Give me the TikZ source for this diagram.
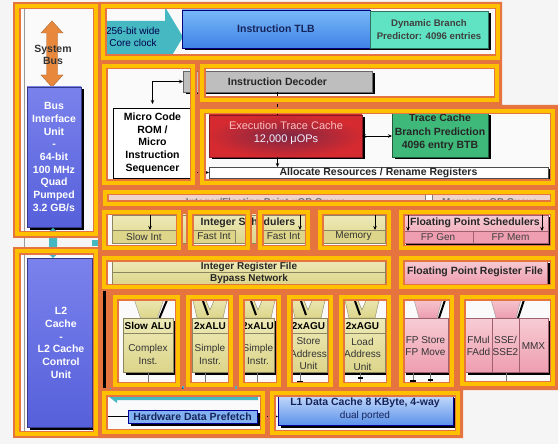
\documentclass[tikz,border=0pt]{standalone}
\usepackage{fontspec}
\setmainfont{Liberation Sans}
\usetikzlibrary{shadows,arrows.meta}

\definecolor{hlyellow}{HTML}{FFC000}
\definecolor{hlorange}{HTML}{E6743F}
\definecolor{pagebg}{HTML}{F5F5F5}
\definecolor{cellbg}{HTML}{FAFAFA}
\definecolor{biublue}{HTML}{5660DA}
\definecolor{biutop}{HTML}{7A82EC}
\definecolor{tlbtop}{HTML}{78B8F8}
\definecolor{tlbbot}{HTML}{3F82E6}
\definecolor{aqua}{HTML}{5FE3C2}
\definecolor{tealarrow}{HTML}{45B8C2}
\definecolor{busorange}{HTML}{E8883C}
\definecolor{decgray}{HTML}{BEBEBE}
\definecolor{tcred}{HTML}{D42A30}
\definecolor{btbgreen}{HTML}{3FB97A}
\definecolor{khaki}{HTML}{DCD58A}
\definecolor{khakitop}{HTML}{EEEAB8}
\definecolor{khakiedge}{HTML}{8C8660}
\definecolor{fppink}{HTML}{EE9EB0}
\definecolor{fppinktop}{HTML}{F7CCD4}
\definecolor{pinkedge}{HTML}{A06070}
\definecolor{navy}{HTML}{16245A}
\definecolor{l1top}{HTML}{C4DAFA}
\definecolor{l1bot}{HTML}{5C92EA}
\definecolor{pfblue}{HTML}{82B2F2}
\definecolor{queuebg}{HTML}{F0D4CC}

\tikzset{
  every node/.style={inner sep=0pt, outer sep=0pt},
  shadowed/.style={general shadow={fill=black, shadow xshift=2.5pt, shadow yshift=-2.5pt}},
  ubox/.style={anchor=north west, draw=#1, line width=0.5pt, align=center},
  bigbold/.style={font=\fontsize{10.5}{12.7}\selectfont\bfseries, align=center},
  midbold/.style={font=\fontsize{10}{12.5}\selectfont\bfseries, align=center},
  txtplain/.style={font=\fontsize{10}{12.5}\selectfont, align=center},
  wire/.style={draw=black, line width=0.7pt},
  arr/.style={-{Stealth[length=4pt,width=3.5pt]}},
  arrboth/.style={{Stealth[length=4pt,width=3.5pt]}-{Stealth[length=4pt,width=3.5pt]}},
  bandorange/.style={draw=hlorange, line width=7.6pt},
  bandyellow/.style={draw=hlyellow, line width=4.3pt},
  stub/.style={draw=black!55, line width=0.6pt},
}

% ALU symbol with a V notch: centre x
\newcommand\alusym[1]{%
  \path[top color=khakitop, bottom color=khaki, draw=khakiedge, line width=0.4pt]
    (#1-18,296) -- (#1-6,296) -- (#1,310) -- (#1+6,296) -- (#1+18,296)
    -- (#1+13,318) -- (#1-13,318) -- cycle;
  \draw[black, line width=2pt] (#1-7,301) -- (#1-2,315);}
% plain funnel: centre x, half top width, half bottom width, top colour, bottom colour
\newcommand\funnelsym[5]{%
  \path[top color=#4, bottom color=#5, draw=black!40, line width=0.4pt]
    (#1-#2,296) -- (#1+#2,296) -- (#1+#3,318) -- (#1-#3,318) -- cycle;
  \draw[black, line width=2pt] (#1+#3+2,318) -- (#1+#2+2,300);}

\newcommand\framelist{13/2/100/238, 13/247/100/438, 99/2/502/62, 100/62/197/187,
  198/62/501/104, 198/107/557/187, 101/188/557/208, 100/208/183/252,
  186/208/252/252, 256/208/312/252, 316/208/393/252, 397/208/557/252,
  100/254/393/291, 397/254/557/291, 111/293/182/389, 184/293/235/389,
  237/293/283/389, 285/293/335/389, 337/293/393/389, 397/293/456/389,
  458/293/557/388, 100/389/267/436, 268/389/462/437}

\begin{document}
\begin{tikzpicture}[x=1pt,y=-1pt]
\useasboundingbox (0,0) rectangle (558,444);
\fill[pagebg] (0,0) rectangle (558,444);

% orange ground behind the highlighted core blocks
\fill[hlorange] (98,2) -- (502,2) -- (502,105) -- (558,105) -- (558,390)
  -- (463,390) -- (463,438) -- (98,438) -- cycle;
\foreach \xa/\ya/\xb/\yb in \framelist {
  \fill[cellbg] (\xa+7,\ya+7) rectangle (\xb-7,\yb-7);
}

% ---------- system bus, bus interface, L2 ----------
\draw[black!40, line width=0.6pt] (24.5,8) -- (24.5,432);
\path[fill=busorange, draw=busorange!75!black, line width=0.4pt]
  (52,21) -- (63,33) -- (57.5,33) -- (57.5,75) -- (63,75) -- (52,87)
  -- (41,75) -- (46.5,75) -- (46.5,33) -- (41,33) -- cycle;
\node[bigbold, text=black!80] (sysbus) at (53,55) {System\\Bus};

\node[ubox=biublue!60!black, top color=biutop, bottom color=biublue, shadowed,
  minimum width=54pt, minimum height=140pt] (biu) at (27,87) {};
\node[bigbold, text=white] (biutxt) at (54,157)
  {Bus\\Interface\\Unit\\-\\64-bit\\100 MHz\\Quad\\Pumped\\3.2 GB/s};

\path[fill=tealarrow] (53,228) -- (62,236) -- (57,236) -- (57,250) -- (62,250)
  -- (53,258) -- (44,250) -- (49,250) -- (49,236) -- (44,236) -- cycle;
\fill[tealarrow] (92,240) rectangle (98,246);

\node[ubox=biublue!60!black, top color=biutop, bottom color=biublue, shadowed,
  minimum width=65pt, minimum height=169pt] (l2) at (27,258) {};
\node[bigbold, text=white] (l2txt) at (61,343)
  {L2\\Cache\\-\\L2 Cache\\Control\\Unit};

% ---------- fetch ----------
\fill[tealarrow] (100,21) -- (165,21) -- (165,7) -- (183,37) -- (165,67)
  -- (165,54) -- (100,54) -- cycle;
\node[txtplain, text=black!70!blue] (corewide) at (133,37) {256-bit wide\\Core clock};

\node[ubox=blue!50!black, top color=tlbtop, bottom color=tlbbot, shadowed,
  minimum width=188pt, minimum height=38pt, bigbold, text=navy] (itlb) at (182,10)
  {Instruction TLB};
\node[ubox=aqua!50!black, fill=aqua, shadowed, minimum width=118pt,
  minimum height=37pt, font=\fontsize{9.6}{12.7}\selectfont\bfseries,
  text=black!75] (dbp) at (370,11) {Dynamic Branch\\Predictor: 4096 entries};

% ---------- decode ----------
\node[ubox=black, fill=white, shadowed, minimum width=79pt, minimum height=70pt,
  bigbold, text=black] (ucode) at (113,108)
  {Micro Code\\ROM /\\Micro\\Instruction\\Sequencer};
\node[ubox=black!60, fill=decgray, shadowed, minimum width=189pt,
  minimum height=21pt, bigbold, text=black!85] (idec) at (183,71)
  {Instruction Decoder};
\draw[wire, arrboth] (idec.west) -| ([yshift=4pt]ucode.north);

% ---------- trace cache ----------
\node[ubox=tcred!60!black, inner color=tcred!55!navy, outer color=tcred, shadowed,
  minimum width=153pt, minimum height=42pt] (etc) at (209,115) {};
\node[font=\fontsize{11}{13}\selectfont, align=center] (etctxt) at (286,133.5)
  {\textcolor{red!25!white}{Execution Trace Cache}\\
   \textcolor{blue!6!white}{12,000 μOPs}};
\node[ubox=btbgreen!50!black, fill=btbgreen, shadowed, minimum width=96pt,
  minimum height=44pt] (btb) at (392,113) {};
\node[font=\fontsize{10.5}{13.5}\selectfont\bfseries, align=center, text=black!85]
  (btbtxt) at (440,132.5) {Trace Cache\\Branch Prediction\\4096 entry BTB};
\draw[wire, arrboth] (etc.east) -- (etc.east -| btb.west);
\draw[wire] (idec.south) -- (idec.south |- etc.north);

\node[ubox=black!70, fill=white, shadowed, minimum width=339pt,
  minimum height=11pt, bigbold, text=black!85] (alloc) at (209,167)
  {Allocate Resources / Rename Registers};
\coordinate (etcout) at ([xshift=-8pt]etc.south);
\draw[wire, arr] (etcout) -- (etcout |- alloc.north);
\coordinate (allocin) at (196,172.5);
\draw[wire, arr] (allocin) -- (alloc.west);

% ---------- uop queues ----------
\node[ubox=black!40, fill=queuebg, minimum width=442pt, minimum height=11pt]
  (uopq) at (108,193) {};
\node[midbold, text=black!55] (iqtxt) at (266,203)
  {Integer/Floating Point μOP Queue};
\node[ubox=black!50, fill=white, minimum width=7pt, minimum height=9pt]
  (qdiv) at (425,194) {};
\node[midbold, text=black!55] (mqtxt) at (490,203) {Memory μOP Queue};

% ---------- schedulers ----------
\node[ubox=khakiedge, top color=khakitop, bottom color=khaki, minimum width=193pt,
  minimum height=28pt] (isched) at (112,215) {};
\node[bigbold, text=black!85] (ischedtxt) at (248,223) {Integer Schedulers};
\node[ubox=khakiedge, fill=khaki, minimum width=64pt, minimum height=13pt,
  txtplain, text=black!80] (slowint) at (112,230) {Slow Int};
\node[ubox=khakiedge, fill=khaki, minimum width=42pt, minimum height=13pt,
  txtplain, text=black!80] (fastinta) at (193,230) {Fast Int};
\node[ubox=khakiedge, fill=khaki, minimum width=43pt, minimum height=13pt,
  txtplain, text=black!80] (fastintb) at (262,230) {Fast Int};
\node[ubox=khakiedge, top color=khakitop, bottom color=khaki, minimum width=63pt,
  minimum height=28pt] (memsched) at (322,215) {};
\node[ubox=khakiedge, fill=khaki, minimum width=63pt, minimum height=13pt,
  txtplain, text=black!80] (memcell) at (322,230) {Memory};

\node[ubox=pinkedge, top color=fppinktop, bottom color=fppink, shadowed,
  minimum width=145pt, minimum height=28pt] (fpsched) at (403,215) {};
\node[bigbold, text=black!85] (fpschedtxt) at (475,223) {Floating Point Schedulers};
\node[ubox=pinkedge, fill=fppink, minimum width=70pt, minimum height=12pt,
  txtplain, text=black!75] (fpgen) at (403,231) {FP Gen};
\node[ubox=pinkedge, fill=fppink, minimum width=75pt, minimum height=12pt,
  txtplain, text=black!75] (fpmem) at (473,231) {FP Mem};

\coordinate (sa) at (150,213);
\coordinate (sb) at (300,213);
\coordinate (sc) at (375,213);
\coordinate (sd) at (408,213);
\coordinate (se) at (542,213);
\draw[wire, arr] (sa) -- (sa |- slowint.north);
\draw[wire, arr] (sb) -- (sb |- fastintb.north);
\draw[wire, arr] (sc) -- (sc |- memcell.north);
\draw[wire, arr] (sd) -- (sd |- fpgen.north);
\draw[wire, arr] (se) -- (se |- fpmem.north);

% ---------- register files ----------
\node[ubox=khakiedge, top color=khakitop, bottom color=khaki, minimum width=273pt,
  minimum height=24pt] (irf) at (112,260) {};
\draw[khakiedge, line width=0.5pt] (irf.west) -- (irf.east);
\node[midbold, text=black!85] (irftxt) at (249,267) {Integer Register File};
\node[midbold, text=black!85] (bypass) at (249,278.5) {Bypass Network};
\node[ubox=pinkedge, top color=fppinktop, bottom color=fppink, shadowed,
  minimum width=144pt, minimum height=24pt, bigbold, text=black!85] (fprf)
  at (403,260) {Floating Point Register File};

% ---------- execution units ----------
\draw[black, line width=3pt] (104,290) -- (104,388);
\coordinate (kbase) at (0,387);

\funnelsym{149}{16}{8.5}{khakitop}{khaki}
\node[ubox=khakiedge, top color=khakitop, bottom color=khaki, shadowed,
  minimum width=50pt, minimum height=54pt] (slowalu) at (123,318) {};
\draw[khakiedge] ([yshift=-15pt]slowalu.north west) -- ([yshift=-15pt]slowalu.north east);
\node[midbold] (slowalut) at (148,326) {Slow ALU};
\node[txtplain, text=black!80] (slowalud) at (148,354.5) {Complex\\Inst.};

\alusym{210}
\node[ubox=khakiedge, top color=khakitop, bottom color=khaki, shadowed,
  minimum width=36pt, minimum height=54pt] (alua) at (192,318) {};
\draw[khakiedge] ([yshift=-15pt]alua.north west) -- ([yshift=-15pt]alua.north east);
\node[midbold] (aluat) at (210,326) {2xALU};
\node[txtplain, text=black!80] (aluad) at (210,354.5) {Simple\\Instr.};

\alusym{258}
\node[ubox=khakiedge, top color=khakitop, bottom color=khaki, shadowed,
  minimum width=33pt, minimum height=54pt] (alub) at (241,318) {};
\draw[khakiedge] ([yshift=-15pt]alub.north west) -- ([yshift=-15pt]alub.north east);
\node[midbold] (alubt) at (258,326) {2xALU};
\node[txtplain, text=black!80] (alubd) at (258,354.5) {Simple\\Instr.};

\alusym{308}
\node[ubox=khakiedge, top color=khakitop, bottom color=khaki, shadowed,
  minimum width=37pt, minimum height=54pt] (agua) at (290,318) {};
\draw[khakiedge] ([yshift=-15pt]agua.north west) -- ([yshift=-15pt]agua.north east);
\node[midbold] (aguat) at (308.5,326) {2xAGU};
\node[txtplain, text=black!80] (aguad) at (308.5,354) {Store\\Address\\Unit};

\alusym{362}
\node[ubox=khakiedge, top color=khakitop, bottom color=khaki, shadowed,
  minimum width=45pt, minimum height=54pt] (agub) at (340,318) {};
\draw[khakiedge] ([yshift=-15pt]agub.north west) -- ([yshift=-15pt]agub.north east);
\node[midbold] (agubt) at (362.5,326) {2xAGU};
\node[txtplain, text=black!80] (agubd) at (362.5,354) {Load\\Address\\Unit};

\funnelsym{428}{15}{9}{fppinktop}{fppink}
\node[ubox=pinkedge, top color=fppinktop, bottom color=fppink, shadowed,
  minimum width=45pt, minimum height=54pt] (fpmove) at (403,318) {};
\node[txtplain, text=black!80] (fpmovet) at (425.5,346) {FP Store\\FP Move};

\funnelsym{506}{16}{10}{fppinktop}{fppink}
\node[ubox=pinkedge, top color=fppinktop, bottom color=fppink, shadowed,
  minimum width=83pt, minimum height=54pt] (fpexec) at (465,318) {};
\draw[pinkedge] (492,318) -- (492,372) (519,318) -- (519,372);
\node[txtplain, text=black!80] (fmul) at (478.5,346) {FMul\\FAdd};
\node[txtplain, text=black!80] (sse) at (505.5,346) {SSE/\\SSE2};
\node[txtplain, text=black!80] (mmx) at (533.5,346) {MMX};

\draw[stub] (slowalu.south) -- (slowalu.south |- kbase);
\draw[stub] ([xshift=-5pt]alua.south) -- ([xshift=-5pt]alua.south |- kbase);
\draw[stub] (alub.south) -- (alub.south |- kbase);
\draw[stub] ([xshift=-8pt]agua.south) -- ([xshift=-8pt]agua.south |- kbase);
\draw[stub] ([xshift=-2pt]agub.south) -- ([xshift=-2pt]agub.south |- kbase);
\draw[stub] ([xshift=-12pt]fpmove.south) -- ([xshift=-12pt]fpmove.south |- kbase);
\draw[stub] ([xshift=5pt]fpmove.south) -- ([xshift=5pt]fpmove.south |- kbase);
\draw[stub] ([xshift=-0.5pt]fpexec.south) -- ([xshift=-0.5pt]fpexec.south |- kbase);
\fill[black] (297,381) rectangle (303,383);
\fill[black] (358,377) rectangle (363,379);
\fill[black] (410,380) rectangle (416,382);
\fill[black] (428,379) rectangle (433,381);

% ---------- data side ----------
\fill[tealarrow] (104,393) -- (117,383) -- (117,386) -- (258,386) -- (258,400)
  -- (117,400) -- (117,403) -- cycle;
\node[txtplain, text=black!70!blue] (pfwide) at (190,393) {256-bit wide, Core Clock};
\node[ubox=blue!60!black, fill=pfblue, shadowed, minimum width=129pt,
  minimum height=13pt, bigbold, text=navy] (hwpf) at (128,410) {Hardware Data Prefetch};
\coordinate (pfin) at (107,416.5);
\draw[wire] (pfin) -- (hwpf.west);
\fill[black] (106,414) rectangle (108,419);

\node[ubox=blue!60!black, top color=l1top, bottom color=l1bot, shadowed,
  minimum width=175pt, minimum height=30pt] (l1d) at (278,395) {};
\node[bigbold, text=navy] (l1t) at (365,402.5) {L1 Data Cache 8 KByte, 4-way};
\node[txtplain, text=navy] (l1d2) at (365,416) {dual ported};
\draw[wire, arr] (hwpf.east) -- (hwpf.east -| l1d.west);

% ---------- highlight frames ----------
\foreach \xa/\ya/\xb/\yb in \framelist {
  \draw[bandorange] (\xa+3.7,\ya+3.7) rectangle (\xb-3.7,\yb-3.7);
}
\foreach \xa/\ya/\xb/\yb in \framelist {
  \draw[bandyellow] (\xa+3.7,\ya+3.7) rectangle (\xb-3.7,\yb-3.7);
}
\end{tikzpicture}
\end{document}
